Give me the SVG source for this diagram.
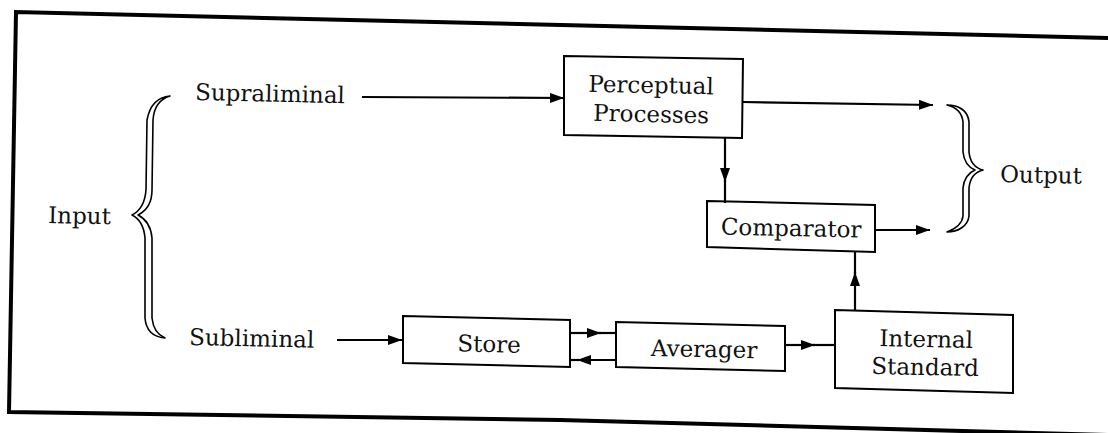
<svg xmlns="http://www.w3.org/2000/svg" width="1108" height="433" viewBox="0 0 1108 433">
<style>
.box{fill:#fff;stroke:#000;stroke-width:2;stroke-linejoin:miter}
.lbl{font-family:"DejaVu Serif","Liberation Serif",serif;font-size:23px;fill:#111}
.mid{text-anchor:middle}
.con{fill:none;stroke:#000;stroke-width:2.2}
.brace{fill:#fff;stroke:#000;stroke-width:1.6;stroke-linejoin:round}
.frame{fill:none;stroke:#000;stroke-width:4;stroke-linecap:square}
</style>
<defs>
<marker id="ah" viewBox="0 0 14 10" refX="14" refY="5" markerWidth="14" markerHeight="10" markerUnits="userSpaceOnUse" orient="auto">
<path d="M0,0 L14,5 L0,10 Z" fill="#000"/>
</marker>
</defs>
<rect x="0" y="0" width="1108" height="433" fill="#fff"/>
<g id="frame">
<polyline class="frame" points="1108,38 16,12 9,412 560,420 1108,435"/>
</g>
<g id="input">
<text class="lbl" x="48" y="223" transform="rotate(1.2 48 223)">Input</text>
<path class="brace" d="M170,96 C158,97 150,104 147,120 L146,190 C145,203 140,211 132,215 C140,219 144,226 145,238 L145,318 C146,330 153,337 165,338 C158,335 153,328 152,318 L152,238 C151,227 146,219 138,215 C146,211 152,203 152,190 L153,120 C154,106 160,99 170,96 Z"/>
</g>
<g id="supraliminal">
<text class="lbl" x="195" y="100" transform="rotate(1.2 195 100)">Supraliminal</text>
</g>
<g id="subliminal">
<text class="lbl" x="189" y="345" transform="rotate(1.2 189 345)">Subliminal</text>
</g>
<g id="perceptual">
<polygon class="box" points="564,56 743,59 742,138 564,135"/>
<text class="lbl mid" x="651" y="93" transform="rotate(1.2 651 93)">Perceptual</text>
<text class="lbl mid" x="651" y="122" transform="rotate(1.2 651 122)">Processes</text>
</g>
<g id="comparator">
<polygon class="box" points="707,201 875,205 875,252 707,247"/>
<text class="lbl mid" x="791" y="236" transform="rotate(1.2 791 236)">Comparator</text>
</g>
<g id="store">
<polygon class="box" points="403,316 570,320 570,367 403,363"/>
<text class="lbl mid" x="489" y="352" transform="rotate(1.2 489 352)">Store</text>
</g>
<g id="averager">
<polygon class="box" points="616,322 785,326 785,371 616,367"/>
<text class="lbl mid" x="704" y="357" transform="rotate(1.2 704 357)">Averager</text>
</g>
<g id="internal">
<polygon class="box" points="835,310 1013,315 1013,393 835,388"/>
<text class="lbl mid" x="926" y="347" transform="rotate(1.2 926 347)">Internal</text>
<text class="lbl mid" x="925" y="375" transform="rotate(1.2 925 375)">Standard</text>
</g>
<g id="output">
<path class="brace" d="M947,105 C958,105 968,110 969,122 L969,152 C970,162 975,168 983,170 C975,172 970,178 969,188 L969,216 C968,226 958,232 947,232 C955,229 962,225 963,216 L963,188 C964,178 968,173 975,170 C968,167 964,162 963,152 L963,122 C962,112 955,107 947,105 Z"/>
<text class="lbl" x="1000" y="182" transform="rotate(1.2 1000 182)">Output</text>
</g>
<g id="connectors">
<line class="con" x1="362" y1="97" x2="564" y2="98" marker-end="url(#ah)"/>
<line class="con" x1="743" y1="102" x2="933" y2="105" marker-end="url(#ah)"/>
<line class="con" x1="725" y1="137" x2="725" y2="182" marker-end="url(#ah)"/>
<line class="con" x1="725" y1="180" x2="725" y2="203"/>
<line class="con" x1="875" y1="230" x2="930" y2="230" marker-end="url(#ah)"/>
<line class="con" x1="855" y1="311" x2="855" y2="272" marker-end="url(#ah)"/>
<line class="con" x1="855" y1="274" x2="855" y2="251"/>
<line class="con" x1="337" y1="340" x2="402" y2="340" marker-end="url(#ah)"/>
<line class="con" x1="570" y1="333" x2="601" y2="333" marker-end="url(#ah)"/>
<line class="con" x1="599" y1="333" x2="616" y2="333"/>
<line class="con" x1="616" y1="360" x2="577" y2="360" marker-end="url(#ah)"/>
<line class="con" x1="579" y1="360" x2="570" y2="360"/>
<line class="con" x1="785" y1="345" x2="815" y2="345" marker-end="url(#ah)"/>
<line class="con" x1="813" y1="345" x2="835" y2="345"/>
</g>
</svg>
